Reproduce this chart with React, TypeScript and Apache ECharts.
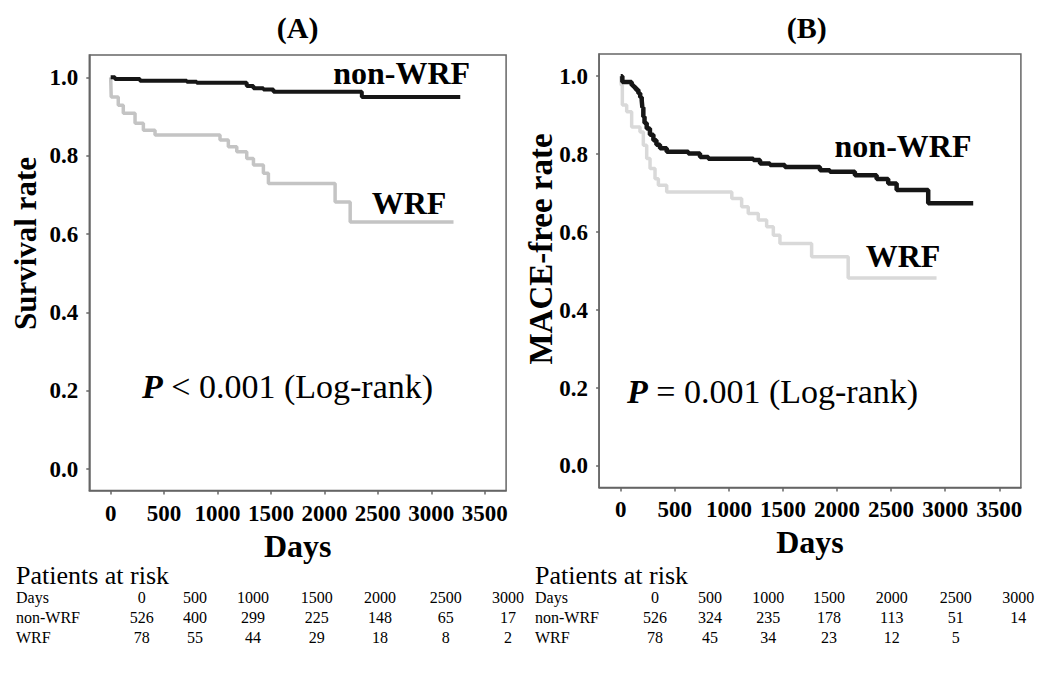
import React, { useEffect, useRef } from "react";
import * as echarts from "echarts";

const FONT = "'Liberation Serif', 'Times New Roman', Times, serif";

// Kaplan-Meier curves: [days, rate]
const survNonWrf: [number, number][] = [
  [0, 1.0], [40, 0.996], [274, 0.991], [712, 0.989], [805, 0.986], [1273, 0.978],
  [1336, 0.972], [1429, 0.969], [1523, 0.963], [2350, 0.95], [3271, 0.95],
];
const survWrf: [number, number][] = [
  [0, 1.0], [5, 0.95], [71, 0.929], [118, 0.908], [228, 0.883], [306, 0.865],
  [415, 0.853], [1023, 0.84], [1101, 0.823], [1180, 0.81], [1273, 0.793],
  [1336, 0.776], [1429, 0.755], [1476, 0.729], [2100, 0.682], [2241, 0.631], [3208, 0.631],
];
const maceNonWrf: [number, number][] = [
  [0, 1.0], [15, 0.985], [101, 0.977], [120, 0.972], [140, 0.965], [163, 0.956],
  [180, 0.946], [194, 0.938], [200, 0.92], [209, 0.896], [220, 0.88], [240, 0.866],
  [270, 0.85], [302, 0.836], [330, 0.824], [363, 0.815], [425, 0.806], [625, 0.802],
  [733, 0.793], [810, 0.788], [1226, 0.785], [1288, 0.776], [1380, 0.772], [1518, 0.767],
  [1842, 0.759], [1934, 0.755], [2165, 0.746], [2366, 0.736], [2473, 0.725],
  [2551, 0.708], [2843, 0.674], [3259, 0.674],
];
const maceWrf: [number, number][] = [
  [0, 1.0], [5, 0.977], [15, 0.926], [55, 0.909], [101, 0.87], [178, 0.857],
  [209, 0.823], [240, 0.789], [271, 0.763], [317, 0.737], [348, 0.72], [425, 0.703],
  [1027, 0.686], [1118, 0.665], [1179, 0.648], [1272, 0.631], [1349, 0.614],
  [1411, 0.592], [1472, 0.571], [1765, 0.537], [2103, 0.482], [2920, 0.482],
];

// Axis ticks
const xTicks = [0, 500, 1000, 1500, 2000, 2500, 3000, 3500];
const yTicks = [0, 0.2, 0.4, 0.6, 0.8, 1.0];

// Patients at risk
const riskDays = [0, 500, 1000, 1500, 2000, 2500, 3000];
const riskNonWrfA = [526, 400, 299, 225, 148, 65, 17];
const riskWrfA = [78, 55, 44, 29, 18, 8, 2];
const riskNonWrfB = [526, 324, 235, 178, 113, 51, 14];
const riskWrfB = [78, 45, 34, 23, 12, 5];

// layout of the risk table columns
const colXA = [141.7, 195, 253, 316.7, 380, 445.7, 508];
const colXB = [655, 710, 768.3, 829, 891.7, 955.7, 1018.3];

function txt(x: number, y: number, text: string, size: number, o: any = {}) {
  return {
    type: "text",
    x,
    y,
    rotation: o.rot || 0,
    style: {
      text,
      fontFamily: FONT,
      fontSize: size,
      fontWeight: o.bold ? "bold" : "normal",
      fill: "#000",
      align: o.align || "center",
      verticalAlign: "middle",
      rich: o.rich,
    },
  };
}

function xAxisCfg(grid: number) {
  return {
    gridIndex: grid,
    type: "value",
    min: -200,
    max: 3700,
    axisLine: { show: true, onZero: false, lineStyle: { color: "#666", width: 1.5 } },
    axisTick: { show: true, customValues: xTicks, length: 4, lineStyle: { color: "#666", width: 1.5 } },
    axisLabel: {
      customValues: xTicks,
      formatter: (v: number) => String(v),
      fontFamily: FONT,
      fontWeight: "bold",
      fontSize: 23,
      color: "#000",
      margin: 11,
    },
    splitLine: { show: false },
    name: "Days",
    nameLocation: "middle",
    nameGap: 38,
    nameTextStyle: { fontFamily: FONT, fontWeight: "bold", fontSize: 32, color: "#000" },
  };
}

function yAxisCfg(grid: number) {
  return {
    gridIndex: grid,
    type: "value",
    min: -0.055,
    max: 1.057,
    axisLine: { show: true, onZero: false, lineStyle: { color: "#666", width: 1.5 } },
    axisTick: { show: true, customValues: yTicks, length: 3, lineStyle: { color: "#666", width: 1.5 } },
    axisLabel: {
      customValues: yTicks,
      formatter: (v: number) => v.toFixed(1),
      fontFamily: FONT,
      fontWeight: "bold",
      fontSize: 23,
      color: "#000",
      margin: 11,
    },
    splitLine: { show: false },
  };
}

function line(data: [number, number][], idx: number, color: string, width: number, z: number) {
  return {
    type: "line",
    step: "end",
    data,
    xAxisIndex: idx,
    yAxisIndex: idx,
    showSymbol: false,
    symbol: "none",
    lineStyle: { color, width },
    z,
    silent: true,
  };
}

export default function App() {
  const ref = useRef<HTMLDivElement>(null);
  useEffect(() => {
    if (!ref.current) return;
    const chart = echarts.init(ref.current, undefined, { renderer: "svg" });

    const pRich = (size: number) => ({
      p: { fontFamily: FONT, fontSize: size, fontStyle: "italic", fontWeight: "bold", fill: "#000" },
      n: { fontFamily: FONT, fontSize: size, fill: "#000" },
    });

    const graphics: any[] = [
      txt(297.7, 27.5, "(A)", 30, { bold: true }),
      txt(806.7, 27, "(B)", 30, { bold: true }),
      txt(25, 243.5, "Survival rate", 31, { bold: true, rot: Math.PI / 2 }),
      txt(541, 249, "MACE-free rate", 33, { bold: true, rot: Math.PI / 2 }),
      txt(401.7, 73.3, "non-WRF", 32, { bold: true }),
      txt(409, 203.3, "WRF", 32, { bold: true }),
      txt(903, 146, "non-WRF", 32, { bold: true }),
      txt(903, 256, "WRF", 32, { bold: true }),
      txt(142, 386, "{p|P}{n| < 0.001 (Log-rank)}", 34, { align: "left", rich: pRich(34) }),
      txt(627, 391, "{p|P}{n| = 0.001 (Log-rank)}", 34, { align: "left", rich: pRich(34) }),
      txt(16, 575, "Patients at risk", 26, { align: "left" }),
      txt(535, 575, "Patients at risk", 26, { align: "left" }),
    ];

    const rowY = [597, 617, 637];
    const tables = [
      { x0: 16, cols: colXA, rows: [riskNonWrfA, riskWrfA] },
      { x0: 535, cols: colXB, rows: [riskNonWrfB, riskWrfB] },
    ];
    tables.forEach((t) => {
      graphics.push(txt(t.x0, rowY[0], "Days", 16, { align: "left" }));
      graphics.push(txt(t.x0, rowY[1], "non-WRF", 16, { align: "left" }));
      graphics.push(txt(t.x0, rowY[2], "WRF", 16, { align: "left" }));
      riskDays.forEach((d, i) => graphics.push(txt(t.cols[i], rowY[0], String(d), 16)));
      t.rows.forEach((row, r) =>
        row.forEach((v, i) => graphics.push(txt(t.cols[i], rowY[r + 1], String(v), 16)))
      );
    });

    chart.setOption({
      animation: false,
      backgroundColor: "#fff",
      grid: [
        { left: 89.3, top: 55, width: 416.8, height: 435.6, show: true, borderColor: "#666", borderWidth: 1.5 },
        { left: 599.1, top: 54, width: 421.8, height: 433.4, show: true, borderColor: "#666", borderWidth: 1.5 },
      ],
      xAxis: [xAxisCfg(0), xAxisCfg(1)],
      yAxis: [yAxisCfg(0), yAxisCfg(1)],
      series: [
        line(survWrf, 0, "#c4c4c4", 3.5, 2),
        line(survNonWrf, 0, "#161616", 4, 3),
        line(maceWrf, 1, "#d9d9d9", 3.5, 2),
        line(maceNonWrf, 1, "#161616", 4.5, 3),
      ],
      graphic: graphics,
    });
    return () => chart.dispose();
  }, []);
  return <div ref={ref} style={{ position: "absolute", left: 0, top: 0, width: 1041, height: 678 }} />;
}
